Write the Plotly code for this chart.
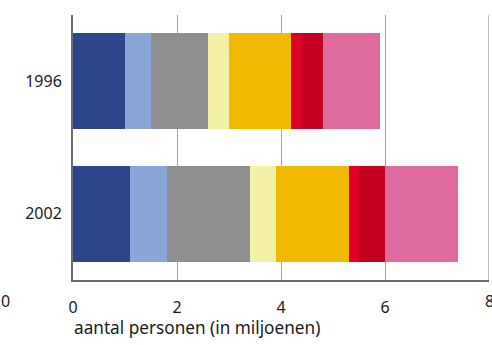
import plotly.graph_objects as go

# Years shown on the category axis (top to bottom: 1996, 2002)
years = ["2002", "1996"]

# Stacked segment values (millions of persons) per year, in stacking order
seg1 = [1.1, 1.0]
seg2 = [0.7, 0.5]
seg3 = [1.6, 1.1]
seg4 = [0.5, 0.4]
seg5 = [1.4, 1.2]
seg6 = [0.2, 0.2]
seg7 = [0.5, 0.4]
seg8 = [1.4, 1.1]

segments = [seg1, seg2, seg3, seg4, seg5, seg6, seg7, seg8]
colors = ["#2E468C", "#88A6D6", "#8E8E8E", "#F4F0A6",
          "#F1B900", "#E10025", "#C3001F", "#DE6A9E"]

x_ticks = [0, 2, 4, 6, 8]

fig = go.Figure()
for vals, col in zip(segments, colors):
    fig.add_trace(go.Bar(
        y=years, x=vals, orientation="h",
        marker=dict(color=col, line=dict(width=0)),
        width=0.727, showlegend=False, hoverinfo="skip",
    ))

font_family = "Noto Sans, Open Sans, sans-serif"

# gridline at the right edge of the plot (x = 8)
fig.add_shape(type="line", xref="x", yref="paper", x0=x_ticks[-1], x1=x_ticks[-1],
              y0=0, y1=1, line=dict(color="#a8a8a8", width=1.5), layer="below")

fig.update_layout(
    barmode="stack",
    width=492, height=345,
    margin=dict(l=73, r=3, t=15, b=65),
    paper_bgcolor="white", plot_bgcolor="white",
    font=dict(family=font_family, size=16, color="#1a1a1a"),
    xaxis=dict(
        range=[0, 8], tickvals=x_ticks[:-1], ticktext=[str(t) for t in x_ticks[:-1]],
        showgrid=True, gridcolor="#a8a8a8", gridwidth=1.3,
        zeroline=False, showline=True, linecolor="#6e6e6e", linewidth=2,
        ticks="", ticklabelstandoff=12,
        tickfont=dict(size=16),
    ),
    yaxis=dict(
        categoryorder="array", categoryarray=years,
        range=[-0.5, 1.5],
        showgrid=False, zeroline=False,
        showline=True, linecolor="#6e6e6e", linewidth=2,
        ticks="", ticklabelstandoff=6,
        tickfont=dict(size=16),
    ),
    annotations=[
        dict(text="aantal personen (in miljoenen)", xref="paper", yref="paper",
             x=-0.003, y=-0.13, xanchor="left", yanchor="top", showarrow=False,
             font=dict(size=17.2)),
        dict(text="0", xref="paper", yref="paper",
             x=-0.163, y=-0.03, xanchor="center", yanchor="top", showarrow=False,
             font=dict(size=16)),
        dict(text=str(x_ticks[-1]), xref="x", yref="paper",
             x=x_ticks[-1], y=-0.03, xanchor="center", yanchor="top", showarrow=False,
             font=dict(size=16)),
    ],
)

fig.write_html("out.html")
